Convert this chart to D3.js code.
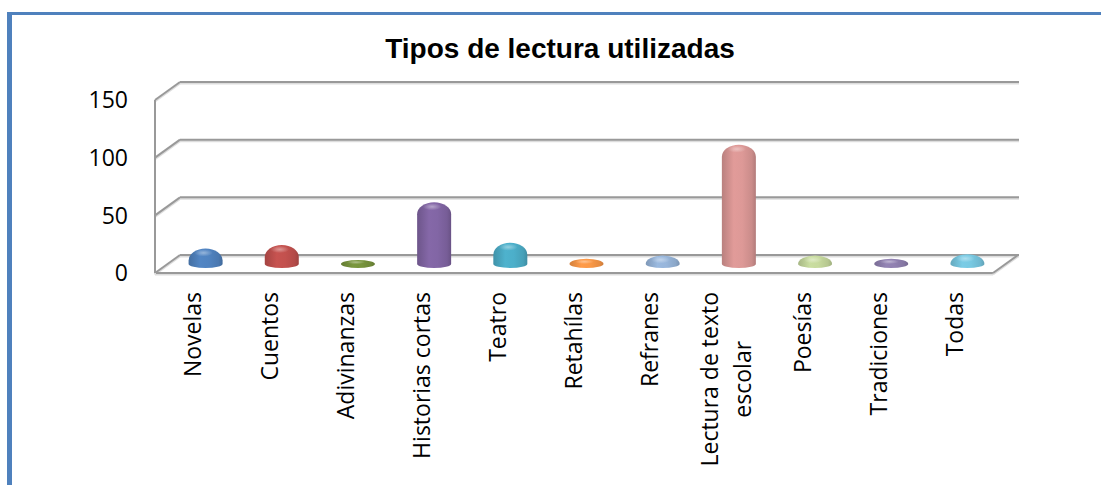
<!DOCTYPE html>
<html>
<head>
<meta charset="utf-8">
<script src="https://cdn.jsdelivr.net/npm/d3@7"></script>
<style>
  body { margin: 0; background: #fff; }
  .tick-label { font-family: "Open Sans", sans-serif; font-size: 23px; fill: #000; }
  .title { font-family: "Liberation Sans", Arial, sans-serif; font-size: 28px; font-weight: bold; }
</style>
</head>
<body>
<svg id="chart"></svg>
<script>
// Data
const categories = ["Novelas", "Cuentos", "Adivinanzas", "Historias cortas", "Teatro", "Retahílas",
  "Refranes", "Lectura de texto escolar", "Poesías", "Tradiciones", "Todas"];
const values = [10, 13, 0, 50, 15, 1, 4, 100, 4, 1, 5];
const colors = ["#4F81BD", "#C0504D", "#76923C", "#8064A2", "#4BACC6", "#F79646",
  "#95B3D7", "#D99694", "#C3D69B", "#8E7FAE", "#76C5DE"];
const yTicks = [0, 50, 100, 150];

// Layout
const width = 1101, height = 485;
const depthX = 25, depthY = -18;   // 3D depth offset of the back wall

const svg = d3.select("#chart").attr("width", width).attr("height", height);

// Blue frame (left and top edges)
svg.append("rect").attr("x", 7).attr("y", 12).attr("width", 5).attr("height", height).attr("fill", "#4F81BD");
svg.append("rect").attr("x", 7).attr("y", 12).attr("width", width).attr("height", 3).attr("fill", "#4F81BD");

// Title
svg.append("text")
  .attr("class", "title")
  .attr("x", 560).attr("y", 58)
  .attr("text-anchor", "middle")
  .text("Tipos de lectura utilizadas");

// Scales (front plane)
const x = d3.scaleBand().domain(categories).range([155, 993]);
const y = d3.scaleLinear().domain([0, 150]).range([273, 100]);

const grid = svg.append("g");
const gridColor = "#999";

function gline(x1, y1, x2, y2) {
  grid.append("line").attr("x1", x1).attr("y1", y1 + 1.5).attr("x2", x2).attr("y2", y2 + 1.5)
    .attr("stroke", "#ddd").attr("stroke-width", 2);
  grid.append("line").attr("x1", x1).attr("y1", y1).attr("x2", x2).attr("y2", y2)
    .attr("stroke", gridColor).attr("stroke-width", 2);
}

const x0 = x.range()[0], x1 = x.range()[1];
const backRight = x1 + depthX;

// Back-wall gridlines with left diagonals
yTicks.forEach(t => {
  gline(x0, y(t), x0 + depthX, y(t) + depthY);
  gline(x0 + depthX, y(t) + depthY, backRight + 1, y(t) + depthY);
});
// Floor front edge and right diagonal
gline(x0, y(0), x1, y(0));
gline(x1, y(0), backRight, y(0) + depthY);
// Front vertical axis
gline(x0, y(150), x0, y(0));

// Y tick labels
svg.append("g").selectAll("text")
  .data(yTicks)
  .join("text")
  .attr("class", "tick-label")
  .attr("x", 128)
  .attr("y", d => y(d))
  .attr("dy", "0.36em")
  .attr("text-anchor", "end")
  .text(d => d);

// Gradients for cylinders
const defs = svg.append("defs");
colors.forEach((c, i) => {
  const base = d3.color(c);
  const g = defs.append("linearGradient").attr("id", "grad" + i)
    .attr("x1", "0%").attr("x2", "100%").attr("y1", "0%").attr("y2", "0%");
  g.append("stop").attr("offset", "0%").attr("stop-color", base.darker(0.45));
  g.append("stop").attr("offset", "35%").attr("stop-color", base.brighter(0.1));
  g.append("stop").attr("offset", "60%").attr("stop-color", base.brighter(0.05));
  g.append("stop").attr("offset", "88%").attr("stop-color", base.darker(0.2));
  g.append("stop").attr("offset", "100%").attr("stop-color", base.darker(0.55));
});
const hl = defs.append("radialGradient").attr("id", "hl")
  .attr("cx", "50%").attr("cy", "50%").attr("r", "50%");
hl.append("stop").attr("offset", "0%").attr("stop-color", "#fff").attr("stop-opacity", 0.4);
hl.append("stop").attr("offset", "100%").attr("stop-color", "#fff").attr("stop-opacity", 0);

// Bars (rounded cylinders at mid depth)
const rx = 17, ryBase = 4;
const bars = svg.append("g");
categories.forEach((cat, i) => {
  const cx = x(cat) + x.bandwidth() / 2 + depthX / 2;
  const yb = y(0) + depthY / 2;             // base ellipse centre
  const yv = y(values[i]) + depthY / 2;     // value level
  const yt = yv - ryBase;                   // dome top
  const domeH = Math.min(12, yb - yt);
  const path = `M${cx - rx},${yb} L${cx - rx},${yt + domeH} ` +
    `A${rx},${domeH} 0 0 1 ${cx + rx},${yt + domeH} L${cx + rx},${yb} ` +
    `A${rx},${ryBase} 0 0 1 ${cx - rx},${yb} Z`;
  bars.append("path").attr("d", path).attr("fill", `url(#grad${i})`);
  bars.append("ellipse")
    .attr("cx", cx - 2).attr("cy", yt + Math.min(domeH, 8) * 0.55)
    .attr("rx", rx * 0.55).attr("ry", Math.max(2, Math.min(domeH, 8) * 0.45))
    .attr("fill", "url(#hl)");
});

// X labels, rotated, wrapped
const labelTop = 292, lineGap = 33, maxW = 190;
const labels = svg.append("g");
categories.forEach(cat => {
  const cx = x(cat) + x.bandwidth() / 2;
  // word wrap
  const words = cat.split(" ");
  const lines = [];
  let cur = "";
  const probe = labels.append("text").attr("class", "tick-label");
  words.forEach(w => {
    const test = cur ? cur + " " + w : w;
    probe.text(test);
    if (probe.node().getComputedTextLength() > maxW && cur) {
      lines.push(cur);
      cur = w;
    } else cur = test;
  });
  lines.push(cur);
  let maxLen = 0;
  lines.forEach(l => { probe.text(l); maxLen = Math.max(maxLen, probe.node().getComputedTextLength()); });
  probe.remove();

  const cy = labelTop + maxLen / 2;
  lines.forEach((l, j) => {
    const lx = cx + (j - (lines.length - 1) / 2) * lineGap;
    labels.append("text")
      .attr("class", "tick-label")
      .attr("text-anchor", "middle")
      .attr("transform", `translate(${lx},${cy}) rotate(-90)`)
      .attr("dy", "0.36em")
      .text(l);
  });
});
</script>
</body>
</html>
